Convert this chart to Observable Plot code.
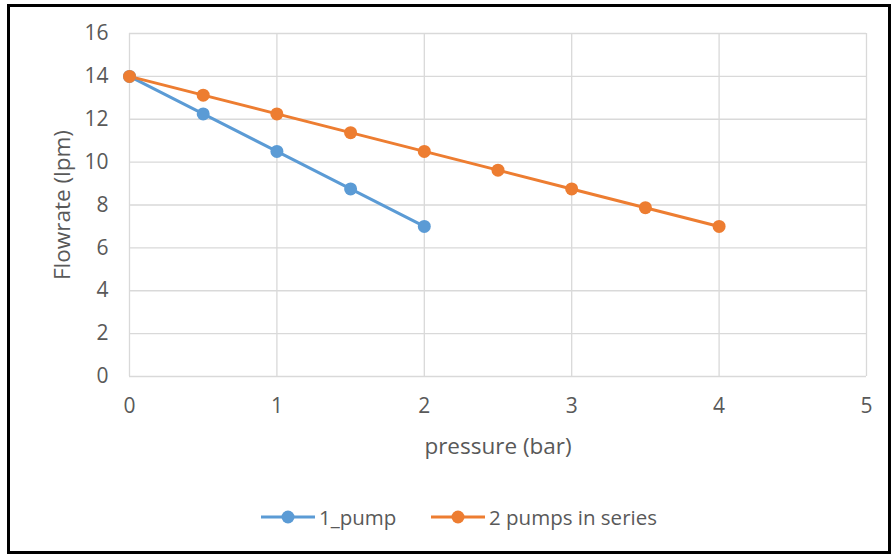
<!DOCTYPE html>
<html><head><meta charset="utf-8">
<script src="https://cdn.jsdelivr.net/npm/d3@7"></script>
<script src="https://cdn.jsdelivr.net/npm/@observablehq/plot@0.6"></script>
<style>
html,body{margin:0;padding:0;background:#fff;}
#wrap{position:relative;width:894px;height:555px;overflow:hidden;font-family:"Open Sans",sans-serif;}
#frame{position:absolute;left:7px;top:4px;width:878px;height:544px;border:3px solid #000;box-sizing:content-box;}
#chart{position:absolute;left:0;top:0;}
#legend{position:absolute;left:0;top:502px;width:894px;height:30px;color:#595959;font-size:20.5px;}
.item{position:absolute;top:0;display:flex;align-items:center;height:30px;}
.item svg{margin-right:3px;}
</style></head>
<body><div id="wrap"><div id="frame"></div><div id="chart"></div><div id="legend"></div></div>
<script>
const seriesNames = ["1_pump", "2 pumps in series"];
const seriesColors = ["#5B9BD5", "#ED7D31"];
const pressure1 = [0, 0.5, 1, 1.5, 2];
const flow1 = [14, 12.25, 10.5, 8.75, 7];
const pressure2 = [0, 0.5, 1, 1.5, 2, 2.5, 3, 3.5, 4];
const flow2 = [14, 13.125, 12.25, 11.375, 10.5, 9.625, 8.75, 7.875, 7];
const xTicks = [0, 1, 2, 3, 4, 5];
const yTicks = [0, 2, 4, 6, 8, 10, 12, 14, 16];
const xLabel = "pressure (bar)";
const yLabel = "Flowrate (lpm)";

const data = [
  ...pressure1.map((p, i) => ({series: seriesNames[0], p, f: flow1[i]})),
  ...pressure2.map((p, i) => ({series: seriesNames[1], p, f: flow2[i]}))
];

const chart = Plot.plot({
  width: 894, height: 470,
  marginLeft: 129, marginRight: 28, marginTop: 33, marginBottom: 94,
  style: {fontFamily: "Open Sans, sans-serif", fontSize: "21px", color: "#595959", background: "transparent"},
  x: {domain: [0, 5]},
  y: {domain: [0, 16]},
  color: {domain: seriesNames, range: seriesColors},
  marks: [
    Plot.gridX(xTicks, {stroke: "#d9d9d9", strokeOpacity: 1, strokeWidth: 1.3}),
    Plot.gridY(yTicks, {stroke: "#d9d9d9", strokeOpacity: 1, strokeWidth: 1.3}),
    Plot.axisX(xTicks, {tickSize: 0, tickPadding: 22, label: null, fill: "#595959", fontSize: 21, tickFormat: d => String(d)}),
    Plot.axisY(yTicks, {tickSize: 0, tickPadding: 21, label: null, fill: "#595959", fontSize: 21, tickFormat: d => String(d)}),
    Plot.text([xLabel], {frameAnchor: "bottom", lineAnchor: "middle", dy: 70, fill: "#595959", fontSize: 22.5}),
    Plot.text([yLabel], {frameAnchor: "left", lineAnchor: "middle", textAnchor: "middle", rotate: -90, dx: -67, fill: "#595959", fontSize: 22.5}),
    Plot.line(data, {x: "p", y: "f", z: "series", stroke: "series", strokeWidth: 3}),
    Plot.dot(data, {x: "p", y: "f", fill: "series", r: 6.5, stroke: "none"})
  ]
});
document.getElementById("chart").appendChild(chart);

const legend = document.getElementById("legend");
const legendX = [260, 430];
seriesNames.forEach((name, i) => {
  const d = document.createElement("div");
  d.className = "item";
  d.style.left = legendX[i] + "px";
  d.innerHTML = `<svg width="56" height="20"><line x1="1" y1="10" x2="55" y2="10" stroke="${seriesColors[i]}" stroke-width="3"/><circle cx="28" cy="10" r="6.5" fill="${seriesColors[i]}"/></svg><span>${name}</span>`;
  legend.appendChild(d);
});
</script></body></html>
